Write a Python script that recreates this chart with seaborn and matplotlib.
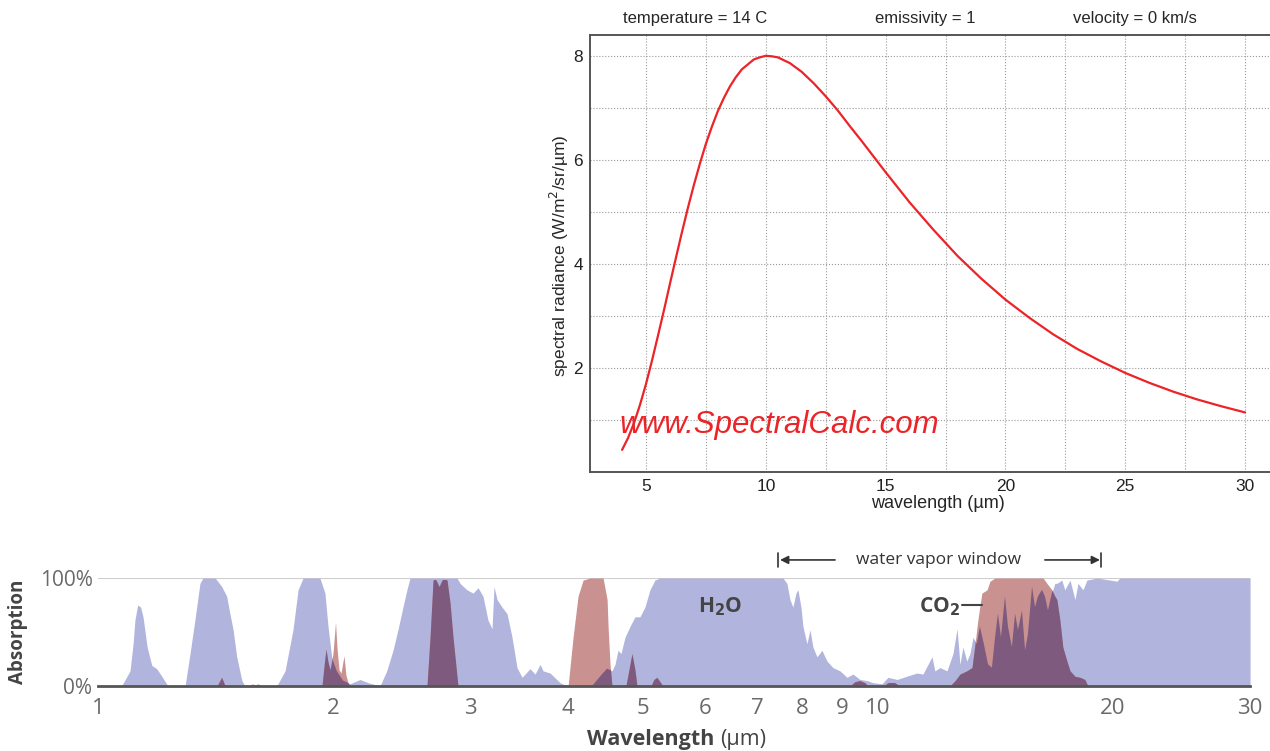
import numpy as np
import matplotlib
matplotlib.use("Agg")
import matplotlib.pyplot as plt
import seaborn as sns
from matplotlib.ticker import FixedLocator, NullLocator

# ---- blackbody curve at 14 C
planck_wl = [4, 4.25, 4.5, 4.75, 5, 5.25, 5.5, 5.75, 6, 6.25, 6.5, 6.75, 7, 7.25, 7.5, 7.75,
             8, 8.25, 8.5, 8.75, 9, 9.5, 9.75, 10, 10.25, 10.5, 11, 11.5, 12, 12.5, 13, 13.5,
             14, 14.5, 15, 16, 17, 18, 19, 20, 21, 22, 23, 24, 25, 26, 27, 28, 29, 30]
radiance = [0.42, 0.65, 0.94, 1.29, 1.69, 2.14, 2.62, 3.11, 3.62, 4.12, 4.61, 5.08, 5.52, 5.93,
            6.31, 6.64, 6.94, 7.19, 7.41, 7.59, 7.74, 7.93, 7.97, 8.00, 7.99, 7.97, 7.86, 7.69,
            7.47, 7.22, 6.95, 6.65, 6.36, 6.06, 5.76, 5.18, 4.65, 4.15, 3.71, 3.31, 2.96, 2.64,
            2.36, 2.12, 1.90, 1.71, 1.54, 1.39, 1.26, 1.14]

# ---- absorption spectra (percent)
h2o_wl = [1.000, 1.072, 1.099, 1.109, 1.115, 1.124, 1.134, 1.142, 1.156, 1.172, 1.189, 1.207, 1.229,
          1.293, 1.312, 1.331, 1.351, 1.363, 1.413, 1.441, 1.462, 1.476, 1.490, 1.506, 1.529, 1.543,
          1.695, 1.737, 1.778, 1.805, 1.832, 1.925, 1.954, 1.972, 1.993, 2.023, 2.061, 2.104, 2.167, 2.220,
          2.299, 2.345, 2.389, 2.424, 2.460, 2.489, 2.512, 2.886, 2.912, 2.972, 3.026, 3.071, 3.116, 3.162,
          3.200, 3.219, 3.248, 3.296, 3.345, 3.395, 3.445, 3.497, 3.580, 3.634, 3.688, 3.720, 3.798, 3.912, 3.994,
          4.300, 4.429, 4.495, 4.560, 4.601, 4.642, 4.683, 4.738, 4.808, 4.880, 4.952, 5.026, 5.101, 5.176, 5.253,
          7.553, 7.643, 7.712, 7.780, 7.850, 7.896, 7.967, 8.014, 8.109, 8.181, 8.254, 8.352, 8.476, 8.603,
          8.756, 8.939, 9.126, 9.289, 9.483, 9.681, 9.853, 10.12, 10.30, 10.58, 10.89, 11.22, 11.42, 11.73,
          11.83, 12.01, 12.26, 12.48, 12.63, 12.74, 12.85, 13.00, 13.12, 13.24, 13.39, 13.51, 13.67, 13.84,
          14.00, 14.13, 14.25, 14.38, 14.55, 14.68, 14.85, 14.99, 15.12, 15.30, 15.44, 15.57, 15.76, 15.90,
          16.04, 16.23, 16.37, 16.52, 16.71, 16.86, 16.96, 17.21, 17.36, 17.63, 17.89, 18.05, 18.32, 18.53,
          19.09, 20.25, 20.43, 30.0]
h2o_abs = [0, 0, 14, 39, 61, 75, 73, 64, 36, 19, 16, 9, 0,
           0, 30, 61, 95, 100, 100, 92, 83, 67, 52, 27, 5, 0,
           0, 14, 52, 89, 100, 100, 86, 55, 27, 14, 5, 2, 6, 3,
           0, 14, 33, 52, 73, 89, 100, 100, 95, 89, 86, 91, 83, 61,
           53, 92, 80, 73, 67, 45, 17, 8, 16, 11, 20, 14, 12, 3, 0,
           0, 11, 16, 14, 20, 33, 30, 45, 55, 64, 64, 73, 89, 98, 100,
           100, 95, 80, 73, 86, 89, 73, 55, 39, 52, 36, 27, 33, 23,
           17, 14, 8, 11, 6, 5, 3, 2, 8, 6, 9, 12, 11, 27,
           14, 17, 14, 30, 53, 20, 36, 23, 30, 45, 39, 55, 39, 20,
           17, 45, 67, 45, 83, 55, 36, 67, 52, 70, 33, 48, 92, 73,
           83, 89, 83, 70, 86, 95, 95, 98, 89, 98, 80, 95, 89, 98,
           100, 97, 100, 100]

co2_wl = [1.000, 1.421, 1.433, 1.440, 1.446, 1.455, 1.562, 1.576, 1.590, 1.604, 1.623,
          1.937, 1.950, 1.960, 1.972, 1.984, 2.001, 2.016, 2.025, 2.037, 2.049, 2.067, 2.079, 2.092, 2.104,
          2.641, 2.665, 2.689, 2.713, 2.737, 2.761, 2.802, 2.827, 2.852, 2.894,
          4.006, 4.065, 4.125, 4.187, 4.275, 4.442, 4.495, 4.508, 4.534, 4.560,
          4.752, 4.794, 4.837, 4.880, 4.909,
          5.116, 5.161, 5.207, 5.253, 5.300,
          9.207, 9.344, 9.483, 9.623, 9.710,
          10.15, 10.30, 10.51, 10.67,
          12.37, 12.56, 12.74, 13.00, 13.20, 13.32, 13.43, 13.59, 13.80, 13.92, 14.13, 16.28, 16.47,
          16.71, 16.86, 16.96, 17.11, 17.26, 17.47, 17.63, 17.89, 18.16, 18.42, 18.53, 18.59, 30.0]
co2_abs = [0, 0, 5, 8, 5, 0, 0, 2, 1, 2, 0,
           0, 20, 34, 22, 15, 30, 59, 35, 15, 12, 28, 10, 3, 0,
           0, 45, 98, 98, 92, 98, 98, 77, 45, 0,
           0, 45, 83, 98, 100, 100, 80, 55, 20, 0,
           0, 15, 30, 15, 0,
           0, 6, 8, 4, 0,
           0, 4, 5, 3, 0,
           0, 3, 3, 0,
           0, 5, 11, 14, 17, 39, 61, 86, 89, 97, 100, 100, 95,
           89, 83, 80, 61, 36, 23, 14, 9, 8, 6, 2, 0, 0]

top_xticks = [5, 10, 15, 20, 25, 30]
top_yticks = [2, 4, 6, 8]
bottom_xticks = [1, 2, 3, 4, 5, 6, 7, 8, 9, 10, 20, 30]
window_edges = [7.44, 19.32]

BLUE = "#b1b4dd"
PINK = "#c99290"
DARK = "#7e5a7e"

sns.set_theme(style="white")
plt.rcParams['font.family'] = ['Liberation Sans', 'DejaVu Sans']

fig = plt.figure(figsize=(12.7, 7.51), dpi=100)
fig.patch.set_facecolor("white")

# ------------------ upper panel
ax1 = fig.add_axes([0.4646, 0.3719, 0.5354, 0.5815])
sns.lineplot(x=planck_wl, y=radiance, ax=ax1, color="#ec2327", lw=1.6, zorder=3)
ax1.set_xlim(2.663, 31.04)
ax1.set_ylim(0, 8.4)
ax1.set_xticks(top_xticks)
ax1.set_xticks([7.5, 12.5, 17.5, 22.5, 27.5], minor=True)
ax1.set_yticks(top_yticks)
ax1.set_yticks([1, 3, 5, 7], minor=True)
ax1.grid(which="both", ls=":", color="#9a9a9a", lw=0.8)
ax1.tick_params(which="both", direction="in", length=4, labelsize=12.5,
                colors="#222222", pad=5)
ax1.tick_params(which="minor", length=0)
for s in ["left", "bottom", "top"]:
    ax1.spines[s].set_color("#555555")
    ax1.spines[s].set_linewidth(1.4)
ax1.spines["right"].set_visible(False)
ax1.set_xlabel("")
ax1.set_ylabel("")

ax1.text(3.9, 0.9, "www.SpectralCalc.com", color="#ec2327", fontsize=22.5,
         style="italic", ha="left", va="center", zorder=4)

fig.text(695 / 1270, 1 - 18 / 751, "temperature = 14 C", ha="center", va="center", fontsize=12)
fig.text(925 / 1270, 1 - 18 / 751, "emissivity = 1", ha="center", va="center", fontsize=12)
fig.text(1135 / 1270, 1 - 18 / 751, "velocity = 0 km/s", ha="center", va="center", fontsize=12)
fig.text(559 / 1270, 1 - 256 / 751, "spectral radiance (W/m$^2$/sr/µm)", rotation=90,
         ha="center", va="center", fontsize=12.5)
fig.text(938 / 1270, 1 - 503 / 751, "wavelength (µm)", ha="center", va="center", fontsize=13)

# ------------------ lower panel
ax2 = fig.add_axes([0.0772, 0.0866, 0.9071, 0.1438])
ax2.set_xscale("log")
ax2.set_xlim(1, 30)
ax2.set_ylim(0, 100)

h2o_fill = ax2.fill_between(h2o_wl, h2o_abs, 0, color=BLUE, lw=0, zorder=1)
ax2.fill_between(co2_wl, co2_abs, 0, color=PINK, lw=0, zorder=2)
overlap = ax2.fill_between(co2_wl, co2_abs, 0, color=DARK, lw=0, zorder=3)
overlap.set_clip_path(h2o_fill.get_paths()[0], ax2.transData)

ax2.axhline(100, color="#cfcfcf", lw=1.5, zorder=0)

ax2.xaxis.set_major_locator(FixedLocator(bottom_xticks))
ax2.xaxis.set_minor_locator(NullLocator())
ax2.set_xticklabels([str(t) for t in bottom_xticks])
ax2.set_yticks([0, 100])
ax2.set_yticklabels(["0%", "100%"])
ax2.tick_params(axis="x", direction="out", length=6, width=1.2, color="#555555",
                labelsize=16, labelcolor="#6a6a6a", pad=3)
ax2.tick_params(axis="y", length=0, labelsize=15, labelcolor="#6a6a6a", pad=4)
for lab in ax2.get_xticklabels() + ax2.get_yticklabels():
    lab.set_family(["Open Sans", "DejaVu Sans"])
for s in ["left", "right", "top"]:
    ax2.spines[s].set_visible(False)
ax2.spines["bottom"].set_color("#555555")
ax2.spines["bottom"].set_linewidth(2)
ax2.spines["bottom"].set_zorder(5)

trans = ax2.get_xaxis_transform()
ax2.annotate("", xy=(7.49, 1.167), xytext=(8.81, 1.167), xycoords=trans, textcoords=trans,
             arrowprops=dict(arrowstyle="-|>", color="#333333", lw=1.2, mutation_scale=12,
                             shrinkA=0, shrinkB=0))
ax2.annotate("", xy=(19.26, 1.167), xytext=(16.37, 1.167), xycoords=trans, textcoords=trans,
             arrowprops=dict(arrowstyle="-|>", color="#333333", lw=1.2, mutation_scale=12,
                             shrinkA=0, shrinkB=0))
for xe in window_edges:
    ax2.plot([xe, xe], [1.10, 1.235], transform=trans, color="#333333", lw=1.2, clip_on=False)
ax2.text(11.97, 1.167, "water vapor window", transform=trans, ha="center", va="center",
         fontsize=12.5, color="#333333", family=["Open Sans", "DejaVu Sans"])

ax2.text(6.27, 73, r"H$_\mathbf{2}$O", ha="center", va="center", fontsize=15,
         fontweight="bold", color="#444444", family=["Open Sans", "DejaVu Sans"], zorder=6)
ax2.text(12.01, 73, r"CO$_\mathbf{2}$", ha="center", va="center", fontsize=15,
         fontweight="bold", color="#444444", family=["Open Sans", "DejaVu Sans"], zorder=6)
ax2.plot([12.82, 13.59], [75, 75], color="#444444", lw=1.5, zorder=6)

fig.text(18 / 1270, 1 - 632 / 751, "Absorption", rotation=90, ha="center", va="center",
         fontsize=13.5, fontweight="bold", color="#444444", family=["Open Sans", "DejaVu Sans"])
fig.text(714 / 1270, 1 - 740 / 751, "Wavelength", ha="right", va="center", fontsize=15.5,
         fontweight="bold", color="#444444", family=["Open Sans", "DejaVu Sans"])
fig.text(720 / 1270, 1 - 740 / 751, "(µm)", ha="left", va="center", fontsize=15.5,
         color="#444444", family=["Open Sans", "DejaVu Sans"])

fig.savefig("out.png", dpi=100, facecolor="white")
